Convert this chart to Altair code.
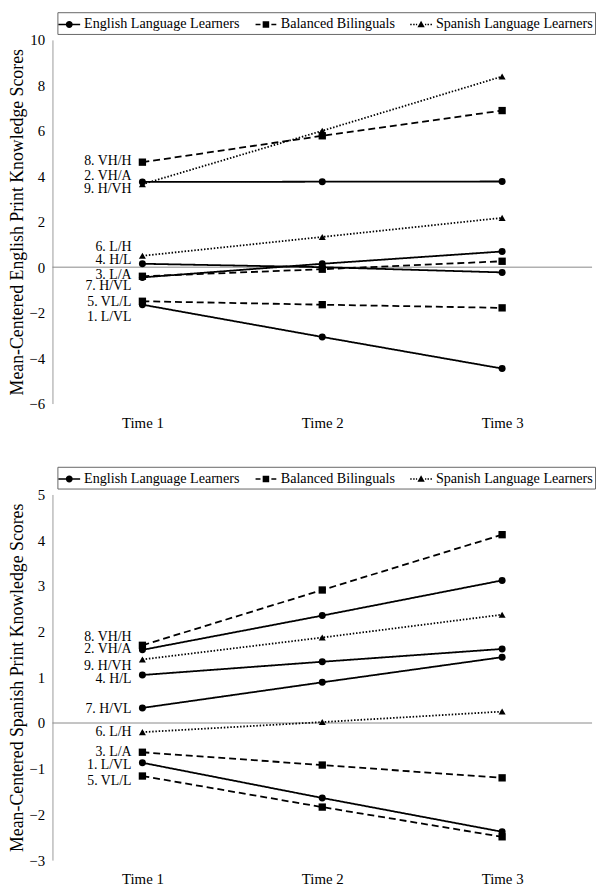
import altair as alt
import pandas as pd

times = ["Time 1", "Time 2", "Time 3"]
groups = ["English Language Learners", "Balanced Bilinguals", "Spanish Language Learners"]
profiles = ["1. L/VL", "2. VH/A", "3. L/A", "4. H/L", "5. VL/L",
            "6. L/H", "7. H/VL", "8. VH/H", "9. H/VH"]
profile_group = [groups[0], groups[0], groups[1], groups[0], groups[1],
                 groups[2], groups[0], groups[1], groups[2]]

# English print knowledge (mean-centered), per profile
english_time1 = [-1.65, 3.75, -0.40, 0.15, -1.50, 0.50, -0.45, 4.62, 3.65]
english_time2 = [-3.07, 3.76, -0.09, 0.00, -1.65, 1.33, 0.15, 5.78, 6.00]
english_time3 = [-4.46, 3.77, 0.26, -0.23, -1.79, 2.17, 0.69, 6.89, 8.39]
english_label_y = [-2.20, 3.99, -0.35, 0.32, -1.52, 0.90, -0.82, 4.68, 3.44]

# Spanish print knowledge (mean-centered), per profile
spanish_time1 = [-0.87, 1.60, -0.64, 1.05, -1.16, -0.20, 0.33, 1.70, 1.39]
spanish_time2 = [-1.64, 2.35, -0.92, 1.34, -1.84, 0.02, 0.89, 2.91, 1.87]
spanish_time3 = [-2.38, 3.12, -1.20, 1.62, -2.49, 0.25, 1.44, 4.12, 2.37]
spanish_label_y = [-0.93, 1.61, -0.63, 0.97, -1.28, -0.19, 0.31, 1.89, 1.25]

english_ticks = [-6, -4, -2, 0, 2, 4, 6, 8, 10]
spanish_ticks = [-3, -2, -1, 0, 1, 2, 3, 4, 5]

FONT = "Liberation Serif"
shapes = {groups[0]: "circle", groups[1]: "square", groups[2]: "triangle-up"}
sizes = {groups[0]: 50, groups[1]: 55, groups[2]: 50}
dashes = {groups[0]: [1, 0], groups[1]: [7, 4], groups[2]: [1.5, 1.8]}


def seg(a, b):
    # thin filled bar from x=a to x=b (legend line piece)
    return f"M{a},-0.075L{b},-0.075L{b},0.075L{a},0.075Z"


legend_paths = [
    seg(-1.1, -0.3) + seg(0.3, 1.1)
    + "M0.35,0A0.35,0.35,0,1,1,-0.35,0A0.35,0.35,0,1,1,0.35,0Z",
    seg(-1.05, -0.55) + seg(0.55, 1.05)
    + "M-0.33,-0.33L0.33,-0.33L0.33,0.33L-0.33,0.33Z",
    seg(-1.1, -0.95) + seg(-0.8, -0.65) + seg(-0.52, -0.4)
    + seg(0.4, 0.52) + seg(0.65, 0.8) + seg(0.95, 1.1)
    + "M0,-0.37L0.37,0.29L-0.37,0.29Z",
]


def make_panel(t1, t2, t3, label_y, ticks, title, legend_y, plot_height):
    rows = []
    for i, p in enumerate(profiles):
        for t, v in zip(times, [t1[i], t2[i], t3[i]]):
            rows.append({"profile": p, "group": profile_group[i], "time": t, "score": v})
    df = pd.DataFrame(rows)
    labels = pd.DataFrame({"profile": profiles, "time": times[0], "label_y": label_y})
    legend_df = pd.DataFrame({"group": groups})

    x = alt.X("time:O", scale=alt.Scale(type="point", domain=times, padding=0.5),
              axis=alt.Axis(title=None, labelAngle=0, domain=False, ticks=False,
                            labelPadding=12))
    yscale = alt.Scale(domain=[ticks[0], ticks[-1]], nice=False, zero=False)
    y = alt.Y("score:Q", scale=yscale,
              axis=alt.Axis(values=ticks, title=title, grid=False, ticks=False,
                            domainColor="#999999", labelPadding=8, titlePadding=2))

    base = alt.Chart(df)
    zero = alt.Chart(pd.DataFrame({"z": [0]})).mark_rule(color="#888888", strokeWidth=1).encode(
        y=alt.Y("z:Q", scale=yscale))
    lines = [
        base.transform_filter(alt.datum.group == g).mark_line(
            color="black", strokeWidth=1.8, strokeDash=dashes[g]).encode(
            x=x, y=y, detail="profile:N")
        for g in groups
    ]
    pts = [
        base.transform_filter(alt.datum.group == g).mark_point(
            shape=shapes[g], filled=True, color="black", size=sizes[g], opacity=1).encode(x=x, y=y)
        for g in groups
    ]
    text = alt.Chart(labels).mark_text(align="right", baseline="middle", dx=-11, font=FONT,
                                       fontSize=14, color="black").encode(
        x=x, y=alt.Y("label_y:Q", scale=yscale), text="profile:N")
    legend_layer = alt.Chart(legend_df).mark_point(
        filled=True, fill="black", stroke="black", strokeWidth=0, size=0).encode(
        shape=alt.Shape("group:N", scale=alt.Scale(domain=groups, range=legend_paths),
                        legend=alt.Legend(title=None, orient="none", legendX=5, legendY=legend_y,
                                          direction="horizontal", columns=3,
                                          strokeColor="#666666", padding=2,
                                          symbolSize=400, symbolStrokeWidth=0,
                                          symbolFillColor="black",
                                          symbolOpacity=1,
                                          labelFont=FONT, labelFontSize=14.3, labelColor="black",
                                          labelOffset=5, columnPadding=15)))
    return alt.layer(zero, *lines, *pts, text, legend_layer).properties(
        width=546, height=plot_height)


top = make_panel(english_time1, english_time2, english_time3, english_label_y, english_ticks,
                 "Mean-Centered English Print Knowledge Scores", -28, 368)
bottom = make_panel(spanish_time1, spanish_time2, spanish_time3, spanish_label_y, spanish_ticks,
                    "Mean-Centered Spanish Print Knowledge Scores", -28, 370)

chart = alt.vconcat(top, bottom, spacing=36).resolve_scale(
    shape="independent").resolve_legend(shape="independent").properties(
    padding={"left": 1, "top": -2, "right": 0, "bottom": 0}
).configure_view(stroke=None).configure_axis(
    labelFont=FONT, titleFont=FONT, labelFontSize=15, titleFontSize=18,
    titleFontWeight="normal", labelColor="black", titleColor="black")

chart.save("out.html", embed_options={"renderer": "svg", "actions": False})
